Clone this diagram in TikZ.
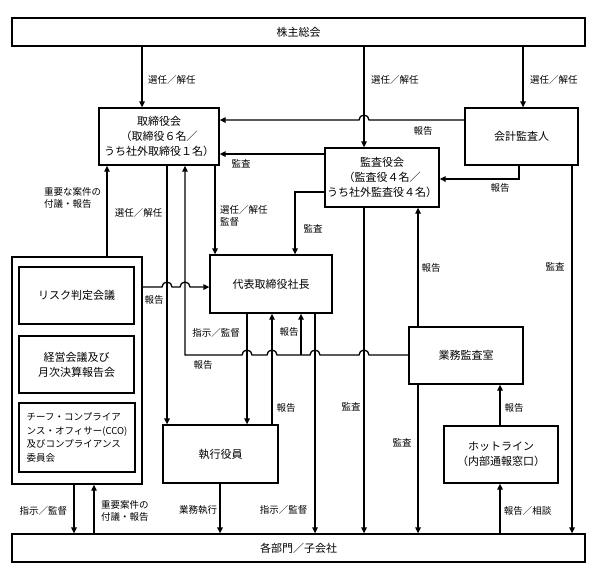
\documentclass[tikz,border=0pt]{standalone}
\usepackage{fontspec}
\setmainfont{Noto Sans CJK JP}
\usetikzlibrary{arrows.meta}

\begin{document}
\begin{tikzpicture}[x=1pt,y=-1pt,
		box/.style={draw,line width=1.3pt,align=center,inner sep=0pt,font=\fontsize{11}{15}\selectfont},
		conn/.style={line width=1.3pt},
		arr/.style={conn,-{Triangle[length=6pt,width=5.5pt]}},
		lbl/.style={inner sep=0pt,align=left,font=\fontsize{9.5}{12.5}\selectfont}]
		\useasboundingbox (0,0) rectangle (594,568);
		\node[box,minimum width=573pt,minimum height=28pt] (kabu) at (298.5,32) {株主総会};
		\node[box,minimum width=120pt,minimum height=57pt] (tori) at (159,136.5) {取締役会\\（取締役６名／\\うち社外取締役１名）};
		\node[box,minimum width=113pt,minimum height=57pt] (kaikei) at (521.5,136.5) {会計監査人};
		\node[box,minimum width=114pt,minimum height=59pt] (kansa) at (382,177.5) {監査役会\\（監査役４名／\\うち社外監査役４名）};
		\node[box,minimum width=122pt,minimum height=58pt] (daihyo) at (271,284) {代表取締役社長};
		\node[box,minimum width=114pt,minimum height=57pt] (gyomu) at (466,355.5) {業務監査室};
		\node[box,minimum width=114pt,minimum height=57pt] (hotline) at (501,454.5) {ホットライン\\（内部通報窓口）};
		\node[box,minimum width=115pt,minimum height=58pt] (shikko) at (220.5,454) {執行役員};
		\node[box,minimum width=130pt,minimum height=227pt] (grp) at (77,370.5) {};
		\node[box,minimum width=115pt,minimum height=57pt] (risk) at (76.5,295.5) {リスク判定会議};
		\node[box,minimum width=115pt,minimum height=57pt] (keiei) at (76.5,364.5) {経営会議及び\\月次決算報告会};
		\node[box,minimum width=116pt,minimum height=69pt,align=left,font=\fontsize{9.5}{13.5}\selectfont] (cco) at (77,437.5) {チーフ・コンプライア\\ンス・オフィサー(CCO)\\及びコンプライアンス\\委員会};
		\node[box,minimum width=573pt,minimum height=28pt] (bumon) at (298.5,548) {各部門／子会社};

		\draw[arr] (kabu.south -| 142,0) -- (tori.north -| 142,0);
		\draw[arr] (kabu.south -| 364,0) -- (kansa.north -| 364,0);
		\draw[arr] (kabu.south -| 523,0) -- (kaikei.north -| 523,0);
		\draw[arr] (kaikei.west |- 0,120) -- (369,120) arc[start angle=0,end angle=180,radius=5pt] -- (tori.east |- 0,120);
		\draw[arr] (kansa.west |- 0,154) -- (tori.east |- 0,154);
		\draw[arr] (kaikei.south -| 519,0) -- (519,179) -- (kansa.east |- 0,179);
		\draw[arr] (kansa.west |- 0,192) -| (daihyo.north -| 295,0);
		\draw[arr] (tori.south -| 215,0) -- (daihyo.north -| 215,0);
		\draw[arr] (tori.south -| 167,0) -- (shikko.north -| 167,0);
		\draw[arr] (grp.north -| 107,0) -- (tori.south -| 107,0);
		\draw[arr] (grp.east |- 0,287) -- (162,287) arc[start angle=180,end angle=0,radius=5pt] -- (180,287) arc[start angle=180,end angle=0,radius=5pt] -- (daihyo.west |- 0,287);
		\draw[arr] (gyomu.west |- 0,355) -- (369,355) arc[start angle=0,end angle=180,radius=5pt] -- (320,355) arc[start angle=0,end angle=180,radius=5pt] -- (277,355) arc[start angle=0,end angle=180,radius=5pt] -- (252,355) arc[start angle=0,end angle=180,radius=5pt] -- (185,355) -- (tori.south -| 185,0);
		\draw[arr] (301,355) -- (daihyo.south -| 301,0);
		\draw[arr] (daihyo.south -| 247,0) -- (shikko.north -| 247,0);
		\draw[arr] (shikko.north -| 272,0) -- (daihyo.south -| 272,0);
		\draw[arr] (daihyo.south -| 315,0) -- (bumon.north -| 315,0);
		\draw[arr] (kansa.south -| 364,0) -- (bumon.north -| 364,0);
		\draw[arr] (gyomu.north -| 418,0) -- (kansa.south -| 418,0);
		\draw[arr] (gyomu.south -| 418,0) -- (bumon.north -| 418,0);
		\draw[arr] (hotline.north -| 500,0) -- (gyomu.south -| 500,0);
		\draw[arr] (bumon.north -| 500,0) -- (hotline.south -| 500,0);
		\draw[arr] (kaikei.south -| 572,0) -- (bumon.north -| 572,0);
		\draw[arr] (grp.south -| 74,0) -- (bumon.north -| 74,0);
		\draw[arr] (bumon.north -| 94,0) -- (grp.south -| 94,0);
		\draw[arr] (shikko.south -| 220,0) -- (bumon.north -| 220,0);

		\node[lbl,anchor=west] (l1) at (148,80) {選任／解任};
		\node[lbl,anchor=west] (l2) at (371,80) {選任／解任};
		\node[lbl,anchor=west] (l3) at (530,80) {選任／解任};
		\node[lbl] (l4) at (423,131) {報告};
		\node[lbl] (l5) at (241,164) {監査};
		\node[lbl] (l6) at (500,188) {報告};
		\node[lbl] (l7) at (313,229) {監査};
		\node[lbl,anchor=west] (l8) at (220,216) {選任／解任\\監督};
		\node[lbl] (l9) at (138.5,213) {選任／解任};
		\node[lbl,anchor=west] (l10) at (44,198) {重要な案件の\\付議・報告};
		\node[lbl] (l11) at (154,300) {報告};
		\node[lbl] (l12) at (203,365) {報告};
		\node[lbl] (l13) at (289,332) {報告};
		\node[lbl] (l14) at (216,333) {指示／監督};
		\node[lbl] (l15) at (286,408) {報告};
		\node[lbl] (l16) at (283.5,510) {指示／監督};
		\node[lbl] (l17) at (351,407) {監査};
		\node[lbl] (l18) at (431,268) {報告};
		\node[lbl] (l19) at (402,443) {監査};
		\node[lbl] (l20) at (514,408) {報告};
		\node[lbl] (l21) at (527.5,511) {報告／相談};
		\node[lbl] (l22) at (555,267) {監査};
		\node[lbl] (l23) at (43.5,511) {指示／監督};
		\node[lbl,anchor=west] (l24) at (101,511) {重要案件の\\付議・報告};
		\node[lbl] (l25) at (198,510) {業務執行};
	\end{tikzpicture}
\end{document}
